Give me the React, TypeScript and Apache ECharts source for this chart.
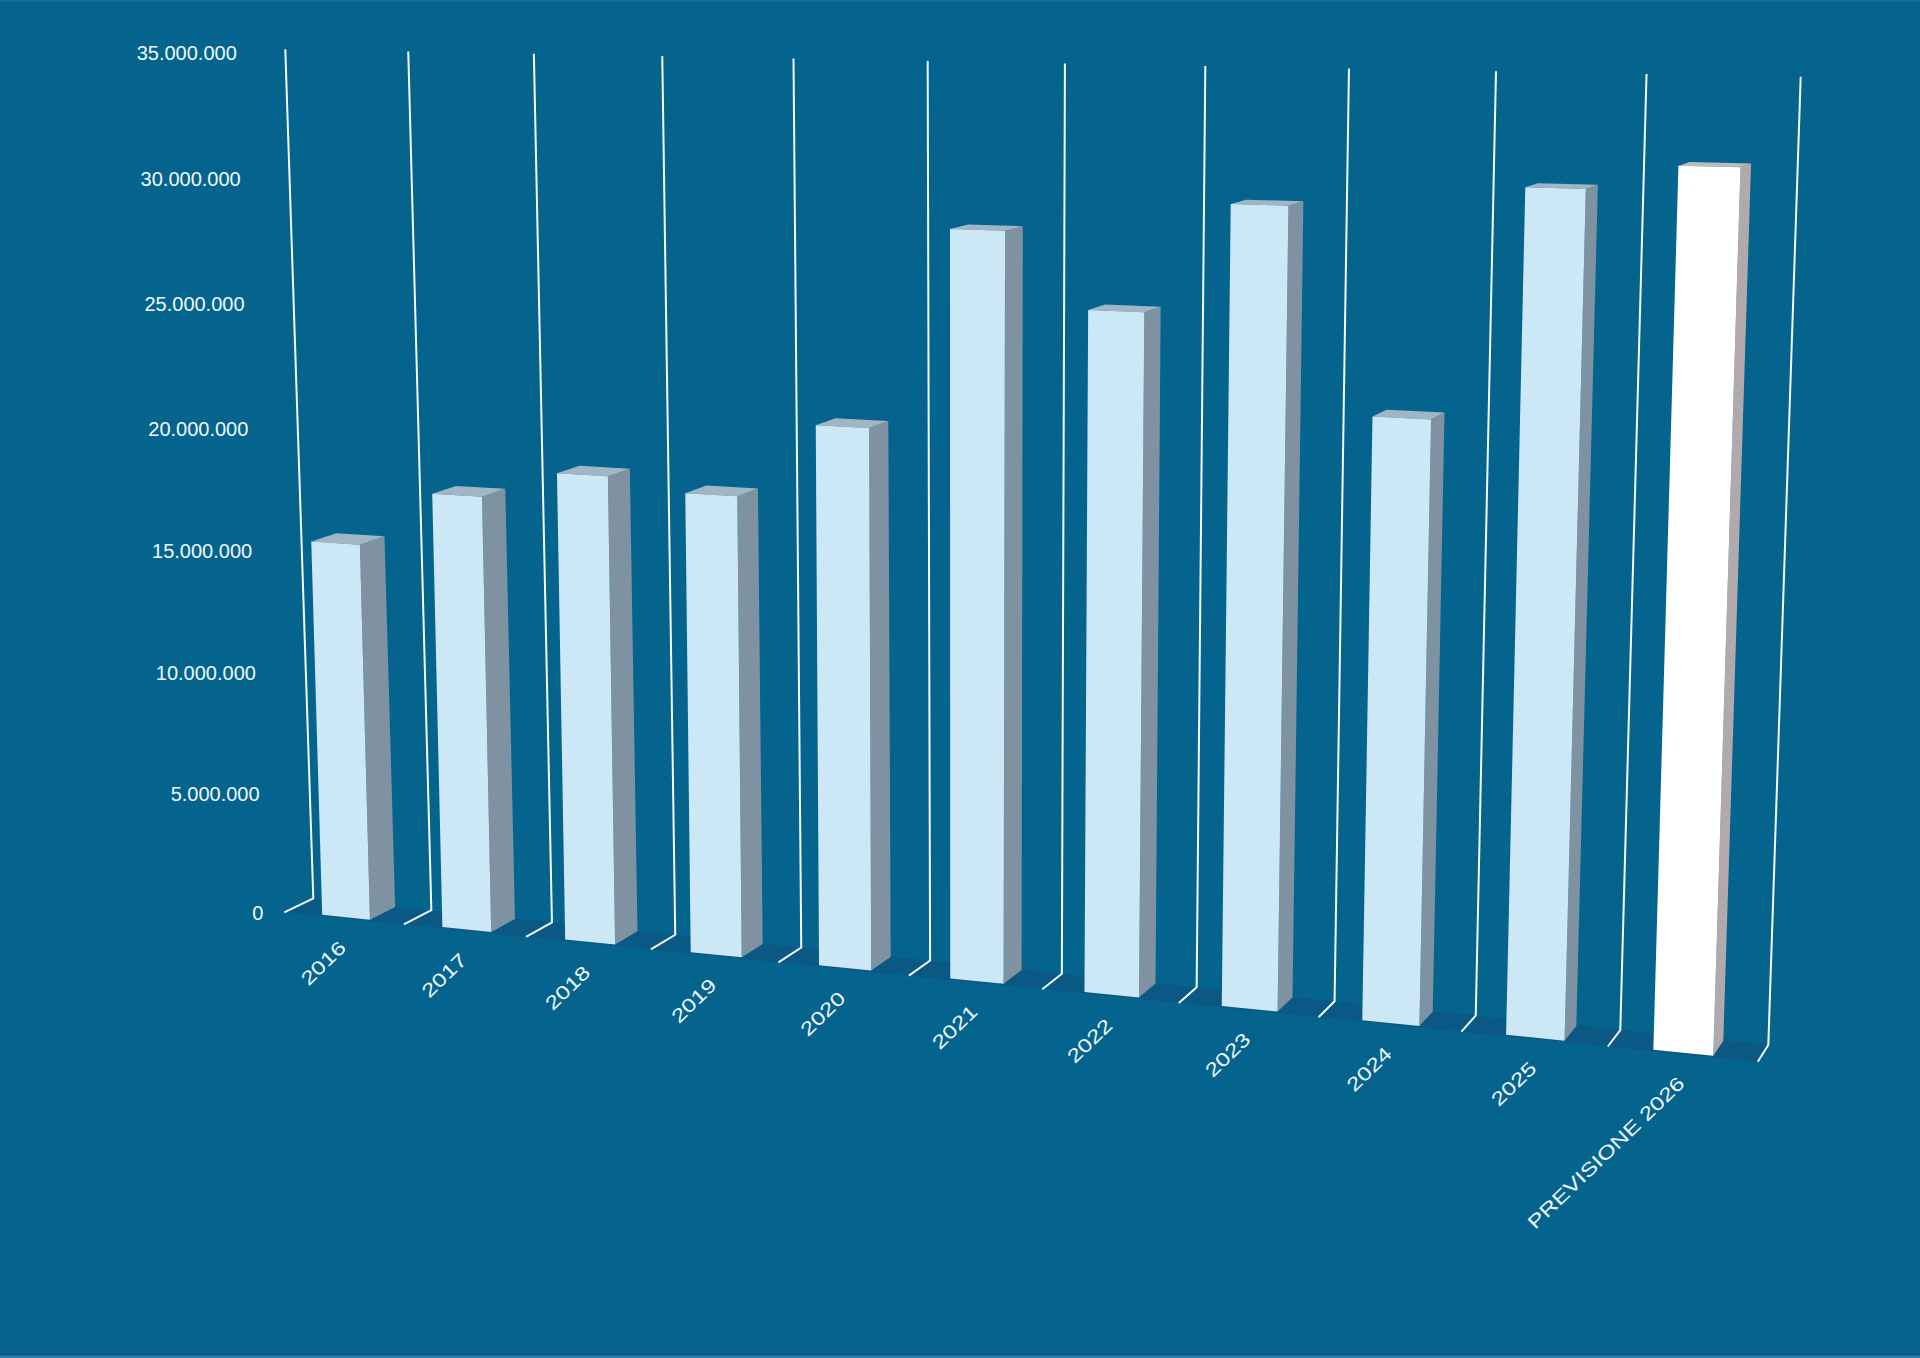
import React, { useEffect, useRef } from "react";
import * as echarts from "echarts";

// ---------- data ----------
const categories = [
  "2016",
  "2017",
  "2018",
  "2019",
  "2020",
  "2021",
  "2022",
  "2023",
  "2024",
  "2025",
  "PREVISIONE 2026",
];
const values = [
  15450000, 17690000, 18790000, 18290000, 21210000, 28870000, 26030000,
  30120000, 22560000, 31020000, 31920000,
];
const forecast = [false, false, false, false, false, false, false, false, false, false, true];
const yTicks = [0, 5000000, 10000000, 15000000, 20000000, 25000000, 30000000, 35000000];
const boundaries = [0, 1, 2, 3, 4, 5, 6, 7, 8, 9, 10, 11];
const Y_MAX = 35000000;

// ---------- perspective geometry (screen layout) ----------
const N = categories.length;
type Pt = [number, number];
const WALL = {
  tl: [285.3, 49.3] as Pt,
  tr: [1800.7, 76.7] as Pt,
  bl: [313.3, 898.3] as Pt,
  br: [1768.3, 1045] as Pt,
};
const FRONT = {
  tl: [257.8, 52.1] as Pt,
  tr: [1789.4, 79.7] as Pt,
  bl: [284.3, 912.3] as Pt,
  br: [1757.7, 1061.7] as Pt,
};
const KX = -0.117;
const AY = 0.966;
const BAR_HALF = 0.2;
const Z_FRONT = 0.08;
const Z_BACK = 0.98;

const BG = "#04648e";
const FLOOR = "#0a5883";
const LINE = "#f4f9fc";
const TEXT = "#f1f7fb";
const FONT = "'Liberation Sans', Arial, Helvetica, sans-serif";
const BAR_COLORS = { front: "#cce8f7", side: "#7f92a2", top: "#a2b5c5" };
const FC_COLORS = { front: "#ffffff", side: "#b1a9ab", top: "#bfbbbc" };

const lerp = (a: Pt, b: Pt, f: number): Pt => [a[0] + (b[0] - a[0]) * f, a[1] + (b[1] - a[1]) * f];
function quad(q: typeof WALL, s: number, u: number): Pt {
  return lerp(lerp(q.bl, q.br, s), lerp(q.tl, q.tr, s), u);
}
function proj(X: number, t: number, z: number): Pt {
  const s = ((1 + KX) * X) / (N + KX * X);
  const u = (AY * t) / (1 + (AY - 1) * t);
  return lerp(quad(FRONT, s, u), quad(WALL, s, u), z);
}
function norm(params: any, pt: number[]) {
  const cs = params.coordSys;
  const band = cs.width / N;
  return { X: (pt[0] - cs.x) / band, t: (cs.y + cs.height - pt[1]) / cs.height };
}
const fmt = (v: number) => String(v).replace(/\B(?=(\d{3})+(?!\d))/g, ".");

export default function App() {
  const ref = useRef<HTMLDivElement>(null);
  useEffect(() => {
    if (!ref.current) return;
    const chart = echarts.init(ref.current, undefined, { renderer: "svg" });
    const option: any = {
      animation: false,
      backgroundColor: BG,
      grid: { left: 100, top: 100, width: 1100, height: 700, containLabel: false },
      xAxis: { type: "category", data: categories, show: false },
      yAxis: { type: "value", min: 0, max: Y_MAX, interval: 5000000, show: false },
      graphic: [
        { type: "rect", shape: { x: 0, y: 1353, width: 1920, height: 1.5 }, style: { fill: "#0a5680" } },
        { type: "rect", shape: { x: 0, y: 1355.5, width: 1920, height: 2.5 }, style: { fill: "#2b7fa8" } },
        { type: "rect", shape: { x: 0, y: 0, width: 1920, height: 1.5 }, style: { fill: "#1a6e97" } },
      ],
      series: [
        {
          type: "custom",
          name: "floor",
          clip: false,
          silent: true,
          z: 1,
          data: [[0, 0]],
          renderItem: (params: any, api: any) => {
            const a = api.coord([0, 0]);
            const band = api.size([1, 0])[0];
            const X0 = norm(params, [a[0] - band / 2, a[1]]).X;
            const X1 = X0 + N;
            return {
              type: "polygon",
              shape: { points: [proj(X0, 0, 0), proj(X1, 0, 0), proj(X1, 0, 1), proj(X0, 0, 1)] },
              style: { fill: FLOOR },
            };
          },
        },
        {
          type: "custom",
          name: "wall",
          clip: false,
          silent: true,
          z: 2,
          data: boundaries.map((b) => [b, 0]),
          renderItem: (params: any, api: any) => {
            const i = api.value(0);
            const c0 = api.coord([0, 0]);
            const top = api.coord([0, Y_MAX]);
            const band = api.size([1, 0])[0];
            const X = norm(params, [c0[0] - band / 2 + i * band, c0[1]]).X;
            const tTop = norm(params, top).t;
            return {
              type: "polyline",
              shape: { points: [proj(X, tTop, 1), proj(X, 0, 1), proj(X, 0, 0)] },
              style: { stroke: LINE, lineWidth: 2, fill: null },
            };
          },
        },
        {
          type: "custom",
          name: "bars",
          clip: false,
          silent: true,
          z: 3,
          data: values.map((v, i) => [i, v]),
          renderItem: (params: any, api: any) => {
            const i = api.value(0);
            const v = api.value(1);
            const c = norm(params, api.coord([i, v]));
            const b = norm(params, api.coord([i, 0]));
            const X0 = c.X - BAR_HALF;
            const X1 = c.X + BAR_HALF;
            const t = c.t;
            const t0 = b.t;
            const col = forecast[i] ? FC_COLORS : BAR_COLORS;
            return {
              type: "group",
              children: [
                {
                  type: "polygon",
                  shape: {
                    points: [proj(X1, t0, Z_FRONT), proj(X1, t0, Z_BACK), proj(X1, t, Z_BACK), proj(X1, t, Z_FRONT)],
                  },
                  style: { fill: col.side },
                },
                {
                  type: "polygon",
                  shape: {
                    points: [proj(X0, t, Z_FRONT), proj(X1, t, Z_FRONT), proj(X1, t, Z_BACK), proj(X0, t, Z_BACK)],
                  },
                  style: { fill: col.top },
                },
                {
                  type: "polygon",
                  shape: {
                    points: [proj(X0, t0, Z_FRONT), proj(X1, t0, Z_FRONT), proj(X1, t, Z_FRONT), proj(X0, t, Z_FRONT)],
                  },
                  style: { fill: col.front },
                },
              ],
            };
          },
        },
        {
          type: "custom",
          name: "yLabels",
          clip: false,
          silent: true,
          z: 4,
          data: yTicks.map((v) => [0, v]),
          renderItem: (params: any, api: any) => {
            const v = api.value(1);
            const n = norm(params, api.coord([0, v]));
            const p = proj(n.X - 0.5, n.t, 0);
            return {
              type: "text",
              x: p[0] - 21,
              y: p[1] + 0.5,
              style: {
                text: fmt(v),
                fill: TEXT,
                fontSize: 20,
                fontFamily: FONT,
                align: "right",
                verticalAlign: "middle",
              },
            };
          },
        },
        {
          type: "custom",
          name: "xLabels",
          clip: false,
          silent: true,
          z: 4,
          data: categories.map((_, i) => [i, 0]),
          renderItem: (params: any, api: any) => {
            const i = api.value(0);
            const n = norm(params, api.coord([i, 0]));
            const p = proj(n.X, n.t, 0);
            return {
              type: "text",
              x: p[0] - 1,
              y: p[1] + 26,
              rotation: (44 * Math.PI) / 180,
              scaleX: 1.28,
              style: {
                text: categories[i],
                fill: TEXT,
                fontSize: 19,
                fontFamily: FONT,
                align: "right",
                verticalAlign: "middle",
              },
            };
          },
        },
      ],
    };
    chart.setOption(option);
    return () => chart.dispose();
  }, []);
  return (
    <div
      ref={ref}
      style={{ position: "fixed", left: 0, top: 0, width: 1920, height: 1358, background: BG }}
    />
  );
}
